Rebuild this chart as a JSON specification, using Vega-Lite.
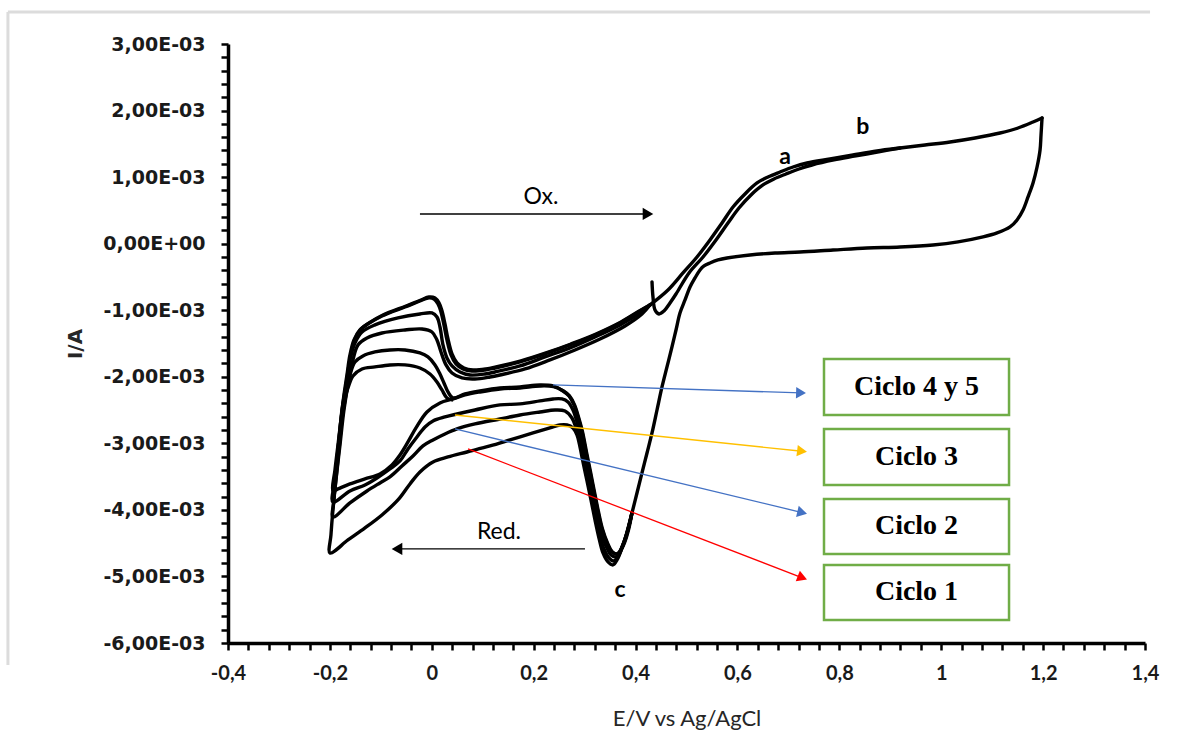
{
"$schema": "https://vega.github.io/schema/vega-lite/v6.json",
"width": 917, "height": 599,
"autosize": {"type": "none"},
"padding": {"left": 228, "top": 44, "right": 37, "bottom": 113},
"background": "white",
"config": {"view": {"stroke": null}},
"datasets": {
"cv": [
{"s":"oxo","o":0,"E":0.4283,"I":-0.000921},{"s":"oxo","o":1,"E":0.4637,"I":-0.000696},{"s":"oxo","o":2,"E":0.4931,"I":-0.000440},{"s":"oxo","o":3,"E":0.5206,"I":-0.000200},{"s":"oxo","o":4,"E":0.5461,"I":0.000056},{"s":"oxo","o":5,"E":0.5697,"I":0.000311},{"s":"oxo","o":6,"E":0.5913,"I":0.000551},{"s":"oxo","o":7,"E":0.6148,"I":0.000747},{"s":"oxo","o":8,"E":0.6384,"I":0.000912},{"s":"oxo","o":9,"E":0.6600,"I":0.001002},{"s":"oxo","o":10,"E":0.6836,"I":0.001077},{"s":"oxo","o":11,"E":0.7091,"I":0.001152},{"s":"oxo","o":12,"E":0.7366,"I":0.001212},{"s":"oxo","o":13,"E":0.7817,"I":0.001273},{"s":"oxo","o":14,"E":0.8269,"I":0.001333},{"s":"oxo","o":15,"E":0.8740,"I":0.001393},{"s":"oxo","o":16,"E":0.9191,"I":0.001438},{"s":"oxo","o":17,"E":0.9682,"I":0.001483},{"s":"oxo","o":18,"E":1.0173,"I":0.001528},{"s":"oxo","o":19,"E":1.0664,"I":0.001588},{"s":"oxo","o":20,"E":1.1154,"I":0.001663},{"s":"oxo","o":21,"E":1.1508,"I":0.001738},{"s":"oxo","o":22,"E":1.1802,"I":0.001828},{"s":"oxo","o":23,"E":1.1979,"I":0.001889},
{"s":"oxi","o":0,"E":0.4323,"I":-0.000575},{"s":"oxi","o":1,"E":0.4342,"I":-0.000801},{"s":"oxi","o":2,"E":0.4382,"I":-0.000996},{"s":"oxi","o":3,"E":0.4460,"I":-0.001056},{"s":"oxi","o":4,"E":0.4558,"I":-0.001011},{"s":"oxi","o":5,"E":0.4676,"I":-0.000891},{"s":"oxi","o":6,"E":0.4794,"I":-0.000756},{"s":"oxi","o":7,"E":0.5049,"I":-0.000440},{"s":"oxi","o":8,"E":0.5324,"I":-0.000200},{"s":"oxi","o":9,"E":0.5579,"I":0.000056},{"s":"oxi","o":10,"E":0.5814,"I":0.000311},{"s":"oxi","o":11,"E":0.6030,"I":0.000536},{"s":"oxi","o":12,"E":0.6266,"I":0.000732},{"s":"oxi","o":13,"E":0.6501,"I":0.000882},{"s":"oxi","o":14,"E":0.6717,"I":0.000972},{"s":"oxi","o":15,"E":0.6953,"I":0.001047},{"s":"oxi","o":16,"E":0.7208,"I":0.001122},{"s":"oxi","o":17,"E":0.7463,"I":0.001182},{"s":"oxi","o":18,"E":0.7895,"I":0.001258},{"s":"oxi","o":19,"E":0.8327,"I":0.001318},{"s":"oxi","o":20,"E":0.8799,"I":0.001385},{"s":"oxi","o":21,"E":0.9191,"I":0.001438},
{"s":"rev","o":0,"E":1.1979,"I":0.001889},{"s":"rev","o":1,"E":1.1959,"I":0.001633},{"s":"rev","o":2,"E":1.1940,"I":0.001408},{"s":"rev","o":3,"E":1.1881,"I":0.001152},{"s":"rev","o":4,"E":1.1802,"I":0.000912},{"s":"rev","o":5,"E":1.1704,"I":0.000702},{"s":"rev","o":6,"E":1.1606,"I":0.000506},{"s":"rev","o":7,"E":1.1488,"I":0.000356},{"s":"rev","o":8,"E":1.1351,"I":0.000251},{"s":"rev","o":9,"E":1.1096,"I":0.000161},{"s":"rev","o":10,"E":1.0821,"I":0.000101},{"s":"rev","o":11,"E":1.0330,"I":0.000026},{"s":"rev","o":12,"E":0.9839,"I":-0.000020},{"s":"rev","o":13,"E":0.9191,"I":-0.000050},{"s":"rev","o":14,"E":0.8543,"I":-0.000065},{"s":"rev","o":15,"E":0.7876,"I":-0.000095},{"s":"rev","o":16,"E":0.7228,"I":-0.000125},{"s":"rev","o":17,"E":0.6737,"I":-0.000140},{"s":"rev","o":18,"E":0.6247,"I":-0.000170},{"s":"rev","o":19,"E":0.5795,"I":-0.000215},{"s":"rev","o":20,"E":0.5618,"I":-0.000245},{"s":"rev","o":21,"E":0.5461,"I":-0.000290},{"s":"rev","o":22,"E":0.5344,"I":-0.000335},{"s":"rev","o":23,"E":0.5265,"I":-0.000395},{"s":"rev","o":24,"E":0.5167,"I":-0.000515},{"s":"rev","o":25,"E":0.5069,"I":-0.000651},{"s":"rev","o":26,"E":0.4971,"I":-0.000846},{"s":"rev","o":27,"E":0.4872,"I":-0.001041},{"s":"rev","o":28,"E":0.4794,"I":-0.001297},{"s":"rev","o":29,"E":0.4715,"I":-0.001552},{"s":"rev","o":30,"E":0.4617,"I":-0.001852},{"s":"rev","o":31,"E":0.4519,"I":-0.002153},{"s":"rev","o":32,"E":0.4421,"I":-0.002499},{"s":"rev","o":33,"E":0.4323,"I":-0.002844},{"s":"rev","o":34,"E":0.4225,"I":-0.003145},{"s":"rev","o":35,"E":0.4126,"I":-0.003445},{"s":"rev","o":36,"E":0.4028,"I":-0.003746},{"s":"rev","o":37,"E":0.3930,"I":-0.004046},
{"s":"w1","o":0,"E":0.3930,"I":-0.004046},{"s":"w1","o":1,"E":0.3832,"I":-0.004347},{"s":"w1","o":2,"E":0.3734,"I":-0.004572},{"s":"w1","o":3,"E":0.3636,"I":-0.004752},{"s":"w1","o":4,"E":0.3557,"I":-0.004827},{"s":"w1","o":5,"E":0.3459,"I":-0.004782},{"s":"w1","o":6,"E":0.3361,"I":-0.004647},{"s":"w1","o":7,"E":0.3282,"I":-0.004422},{"s":"w1","o":8,"E":0.3204,"I":-0.004151},{"s":"w1","o":9,"E":0.3125,"I":-0.003851},{"s":"w1","o":10,"E":0.3047,"I":-0.003565},{"s":"w1","o":11,"E":0.2968,"I":-0.003280},{"s":"w1","o":12,"E":0.2909,"I":-0.003054},{"s":"w1","o":13,"E":0.2850,"I":-0.002874},{"s":"w1","o":14,"E":0.2772,"I":-0.002769},{"s":"w1","o":15,"E":0.2654,"I":-0.002724},{"s":"w1","o":16,"E":0.2517,"I":-0.002724},{"s":"w1","o":17,"E":0.2320,"I":-0.002769},{"s":"w1","o":18,"E":0.1987,"I":-0.002844},{"s":"w1","o":19,"E":0.1535,"I":-0.002949},{"s":"w1","o":20,"E":0.1143,"I":-0.003039},{"s":"w1","o":21,"E":0.0691,"I":-0.003130},{"s":"w1","o":22,"E":0.0318,"I":-0.003205},{"s":"w1","o":23,"E":0.0024,"I":-0.003280},{"s":"w1","o":24,"E":-0.0232,"I":-0.003430},{"s":"w1","o":25,"E":-0.0428,"I":-0.003610},{"s":"w1","o":26,"E":-0.0664,"I":-0.003851},{"s":"w1","o":27,"E":-0.0978,"I":-0.004076},{"s":"w1","o":28,"E":-0.1311,"I":-0.004271},{"s":"w1","o":29,"E":-0.1645,"I":-0.004452},{"s":"w1","o":30,"E":-0.1998,"I":-0.004647},{"s":"w1","o":31,"E":-0.1979,"I":-0.004377},{"s":"w1","o":32,"E":-0.1940,"I":-0.004001},{"s":"w1","o":33,"E":-0.1881,"I":-0.003550},{"s":"w1","o":34,"E":-0.1802,"I":-0.003024},{"s":"w1","o":35,"E":-0.1724,"I":-0.002499},{"s":"w1","o":36,"E":-0.1645,"I":-0.002123},{"s":"w1","o":37,"E":-0.1547,"I":-0.001747},{"s":"w1","o":38,"E":-0.1449,"I":-0.001522},{"s":"w1","o":39,"E":-0.1272,"I":-0.001417},{"s":"w1","o":40,"E":-0.0978,"I":-0.001342},{"s":"w1","o":41,"E":-0.0526,"I":-0.001297},{"s":"w1","o":42,"E":-0.0192,"I":-0.001282},{"s":"w1","o":43,"E":0.0004,"I":-0.001327},{"s":"w1","o":44,"E":0.0102,"I":-0.001447},{"s":"w1","o":45,"E":0.0181,"I":-0.001627},{"s":"w1","o":46,"E":0.0279,"I":-0.001822},{"s":"w1","o":47,"E":0.0397,"I":-0.001943},{"s":"w1","o":48,"E":0.0593,"I":-0.002018},{"s":"w1","o":49,"E":0.0848,"I":-0.002033},{"s":"w1","o":50,"E":0.1143,"I":-0.002003},{"s":"w1","o":51,"E":0.1339,"I":-0.001973},{"s":"w1","o":52,"E":0.1830,"I":-0.001883},{"s":"w1","o":53,"E":0.2320,"I":-0.001747},{"s":"w1","o":54,"E":0.2811,"I":-0.001597},{"s":"w1","o":55,"E":0.3302,"I":-0.001432},{"s":"w1","o":56,"E":0.3793,"I":-0.001236},{"s":"w1","o":57,"E":0.4126,"I":-0.001056},{"s":"w1","o":58,"E":0.4283,"I":-0.000921},
{"s":"w2","o":0,"E":0.3930,"I":-0.004046},{"s":"w2","o":1,"E":0.3832,"I":-0.004347},{"s":"w2","o":2,"E":0.3734,"I":-0.004557},{"s":"w2","o":3,"E":0.3655,"I":-0.004707},{"s":"w2","o":4,"E":0.3577,"I":-0.004767},{"s":"w2","o":5,"E":0.3479,"I":-0.004722},{"s":"w2","o":6,"E":0.3380,"I":-0.004587},{"s":"w2","o":7,"E":0.3302,"I":-0.004377},{"s":"w2","o":8,"E":0.3223,"I":-0.004121},{"s":"w2","o":9,"E":0.3145,"I":-0.003821},{"s":"w2","o":10,"E":0.3066,"I":-0.003535},{"s":"w2","o":11,"E":0.2988,"I":-0.003220},{"s":"w2","o":12,"E":0.2909,"I":-0.002979},{"s":"w2","o":13,"E":0.2831,"I":-0.002769},{"s":"w2","o":14,"E":0.2752,"I":-0.002619},{"s":"w2","o":15,"E":0.2615,"I":-0.002514},{"s":"w2","o":16,"E":0.2419,"I":-0.002499},{"s":"w2","o":17,"E":0.2124,"I":-0.002529},{"s":"w2","o":18,"E":0.1731,"I":-0.002574},{"s":"w2","o":19,"E":0.1339,"I":-0.002634},{"s":"w2","o":20,"E":0.0848,"I":-0.002709},{"s":"w2","o":21,"E":0.0495,"I":-0.002784},{"s":"w2","o":22,"E":0.0259,"I":-0.002859},{"s":"w2","o":23,"E":0.0024,"I":-0.002949},{"s":"w2","o":24,"E":-0.0173,"I":-0.003039},{"s":"w2","o":25,"E":-0.0369,"I":-0.003190},{"s":"w2","o":26,"E":-0.0585,"I":-0.003340},{"s":"w2","o":27,"E":-0.0821,"I":-0.003505},{"s":"w2","o":28,"E":-0.1017,"I":-0.003595},{"s":"w2","o":29,"E":-0.1272,"I":-0.003716},{"s":"w2","o":30,"E":-0.1606,"I":-0.003896},{"s":"w2","o":31,"E":-0.1940,"I":-0.004106},{"s":"w2","o":32,"E":-0.1920,"I":-0.003851},{"s":"w2","o":33,"E":-0.1881,"I":-0.003400},{"s":"w2","o":34,"E":-0.1822,"I":-0.002949},{"s":"w2","o":35,"E":-0.1763,"I":-0.002499},{"s":"w2","o":36,"E":-0.1684,"I":-0.002123},{"s":"w2","o":37,"E":-0.1606,"I":-0.001747},{"s":"w2","o":38,"E":-0.1508,"I":-0.001492},{"s":"w2","o":39,"E":-0.1370,"I":-0.001327},{"s":"w2","o":40,"E":-0.1115,"I":-0.001221},{"s":"w2","o":41,"E":-0.0664,"I":-0.001116},{"s":"w2","o":42,"E":-0.0232,"I":-0.001056},{"s":"w2","o":43,"E":0.0004,"I":-0.001041},{"s":"w2","o":44,"E":0.0102,"I":-0.001101},{"s":"w2","o":45,"E":0.0161,"I":-0.001252},{"s":"w2","o":46,"E":0.0220,"I":-0.001522},{"s":"w2","o":47,"E":0.0298,"I":-0.001717},{"s":"w2","o":48,"E":0.0397,"I":-0.001837},{"s":"w2","o":49,"E":0.0554,"I":-0.001928},{"s":"w2","o":50,"E":0.0750,"I":-0.001973},{"s":"w2","o":51,"E":0.1044,"I":-0.001958},{"s":"w2","o":52,"E":0.1241,"I":-0.001928},{"s":"w2","o":53,"E":0.1731,"I":-0.001837},{"s":"w2","o":54,"E":0.2222,"I":-0.001702},{"s":"w2","o":55,"E":0.2713,"I":-0.001567},{"s":"w2","o":56,"E":0.3204,"I":-0.001402},{"s":"w2","o":57,"E":0.3695,"I":-0.001221},{"s":"w2","o":58,"E":0.4087,"I":-0.001041},{"s":"w2","o":59,"E":0.4283,"I":-0.000921},
{"s":"w3","o":0,"E":0.3930,"I":-0.004046},{"s":"w3","o":1,"E":0.3832,"I":-0.004332},{"s":"w3","o":2,"E":0.3753,"I":-0.004527},{"s":"w3","o":3,"E":0.3675,"I":-0.004662},{"s":"w3","o":4,"E":0.3616,"I":-0.004707},{"s":"w3","o":5,"E":0.3518,"I":-0.004677},{"s":"w3","o":6,"E":0.3420,"I":-0.004542},{"s":"w3","o":7,"E":0.3322,"I":-0.004332},{"s":"w3","o":8,"E":0.3243,"I":-0.004076},{"s":"w3","o":9,"E":0.3164,"I":-0.003791},{"s":"w3","o":10,"E":0.3086,"I":-0.003490},{"s":"w3","o":11,"E":0.3007,"I":-0.003175},{"s":"w3","o":12,"E":0.2929,"I":-0.002904},{"s":"w3","o":13,"E":0.2850,"I":-0.002679},{"s":"w3","o":14,"E":0.2772,"I":-0.002499},{"s":"w3","o":15,"E":0.2674,"I":-0.002378},{"s":"w3","o":16,"E":0.2556,"I":-0.002333},{"s":"w3","o":17,"E":0.2379,"I":-0.002333},{"s":"w3","o":18,"E":0.2124,"I":-0.002363},{"s":"w3","o":19,"E":0.1731,"I":-0.002408},{"s":"w3","o":20,"E":0.1339,"I":-0.002423},{"s":"w3","o":21,"E":0.0848,"I":-0.002499},{"s":"w3","o":22,"E":0.0495,"I":-0.002559},{"s":"w3","o":23,"E":0.0259,"I":-0.002604},{"s":"w3","o":24,"E":0.0024,"I":-0.002664},{"s":"w3","o":25,"E":-0.0133,"I":-0.002754},{"s":"w3","o":26,"E":-0.0291,"I":-0.002904},{"s":"w3","o":27,"E":-0.0467,"I":-0.003084},{"s":"w3","o":28,"E":-0.0624,"I":-0.003265},{"s":"w3","o":29,"E":-0.0821,"I":-0.003385},{"s":"w3","o":30,"E":-0.1076,"I":-0.003520},{"s":"w3","o":31,"E":-0.1311,"I":-0.003625},{"s":"w3","o":32,"E":-0.1606,"I":-0.003716},{"s":"w3","o":33,"E":-0.1940,"I":-0.003881},{"s":"w3","o":34,"E":-0.1900,"I":-0.003550},{"s":"w3","o":35,"E":-0.1841,"I":-0.003099},{"s":"w3","o":36,"E":-0.1782,"I":-0.002649},{"s":"w3","o":37,"E":-0.1724,"I":-0.002273},{"s":"w3","o":38,"E":-0.1665,"I":-0.001973},{"s":"w3","o":39,"E":-0.1606,"I":-0.001672},{"s":"w3","o":40,"E":-0.1527,"I":-0.001447},{"s":"w3","o":41,"E":-0.1410,"I":-0.001297},{"s":"w3","o":42,"E":-0.1252,"I":-0.001206},{"s":"w3","o":43,"E":-0.0978,"I":-0.001086},{"s":"w3","o":44,"E":-0.0526,"I":-0.000951},{"s":"w3","o":45,"E":-0.0232,"I":-0.000861},{"s":"w3","o":46,"E":-0.0075,"I":-0.000816},{"s":"w3","o":47,"E":0.0043,"I":-0.000831},{"s":"w3","o":48,"E":0.0122,"I":-0.000906},{"s":"w3","o":49,"E":0.0181,"I":-0.001026},{"s":"w3","o":50,"E":0.0239,"I":-0.001221},{"s":"w3","o":51,"E":0.0298,"I":-0.001447},{"s":"w3","o":52,"E":0.0377,"I":-0.001672},{"s":"w3","o":53,"E":0.0475,"I":-0.001807},{"s":"w3","o":54,"E":0.0612,"I":-0.001883},{"s":"w3","o":55,"E":0.0789,"I":-0.001913},{"s":"w3","o":56,"E":0.1044,"I":-0.001898},{"s":"w3","o":57,"E":0.1241,"I":-0.001868},{"s":"w3","o":58,"E":0.1731,"I":-0.001777},{"s":"w3","o":59,"E":0.2222,"I":-0.001657},{"s":"w3","o":60,"E":0.2713,"I":-0.001522},{"s":"w3","o":61,"E":0.3204,"I":-0.001372},{"s":"w3","o":62,"E":0.3695,"I":-0.001191},{"s":"w3","o":63,"E":0.4087,"I":-0.001011},{"s":"w3","o":64,"E":0.4283,"I":-0.000921},
{"s":"w4","o":0,"E":0.3930,"I":-0.004046},{"s":"w4","o":1,"E":0.3852,"I":-0.004301},{"s":"w4","o":2,"E":0.3773,"I":-0.004497},{"s":"w4","o":3,"E":0.3695,"I":-0.004617},{"s":"w4","o":4,"E":0.3636,"I":-0.004662},{"s":"w4","o":5,"E":0.3537,"I":-0.004632},{"s":"w4","o":6,"E":0.3439,"I":-0.004497},{"s":"w4","o":7,"E":0.3341,"I":-0.004287},{"s":"w4","o":8,"E":0.3263,"I":-0.004031},{"s":"w4","o":9,"E":0.3184,"I":-0.003731},{"s":"w4","o":10,"E":0.3106,"I":-0.003430},{"s":"w4","o":11,"E":0.3027,"I":-0.003130},{"s":"w4","o":12,"E":0.2949,"I":-0.002829},{"s":"w4","o":13,"E":0.2870,"I":-0.002604},{"s":"w4","o":14,"E":0.2792,"I":-0.002423},{"s":"w4","o":15,"E":0.2693,"I":-0.002288},{"s":"w4","o":16,"E":0.2576,"I":-0.002213},{"s":"w4","o":17,"E":0.2379,"I":-0.002138},{"s":"w4","o":18,"E":0.2124,"I":-0.002123},{"s":"w4","o":19,"E":0.1731,"I":-0.002153},{"s":"w4","o":20,"E":0.1339,"I":-0.002168},{"s":"w4","o":21,"E":0.0946,"I":-0.002213},{"s":"w4","o":22,"E":0.0652,"I":-0.002258},{"s":"w4","o":23,"E":0.0416,"I":-0.002318},{"s":"w4","o":24,"E":0.0318,"I":-0.002228},{"s":"w4","o":25,"E":0.0239,"I":-0.002093},{"s":"w4","o":26,"E":0.0161,"I":-0.001958},{"s":"w4","o":27,"E":0.0063,"I":-0.001822},{"s":"w4","o":28,"E":-0.0075,"I":-0.001702},{"s":"w4","o":29,"E":-0.0232,"I":-0.001642},{"s":"w4","o":30,"E":-0.0526,"I":-0.001597},{"s":"w4","o":31,"E":-0.0821,"I":-0.001597},{"s":"w4","o":32,"E":-0.1115,"I":-0.001627},{"s":"w4","o":33,"E":-0.1351,"I":-0.001687},{"s":"w4","o":34,"E":-0.1508,"I":-0.001777},{"s":"w4","o":35,"E":-0.1606,"I":-0.001973},{"s":"w4","o":36,"E":-0.1684,"I":-0.002273},{"s":"w4","o":37,"E":-0.1763,"I":-0.002649},{"s":"w4","o":38,"E":-0.1822,"I":-0.003099},{"s":"w4","o":39,"E":-0.1881,"I":-0.003475},{"s":"w4","o":40,"E":-0.1920,"I":-0.003806},{"s":"w4","o":41,"E":-0.1880,"I":-0.003535},{"s":"w4","o":42,"E":-0.1821,"I":-0.003084},{"s":"w4","o":43,"E":-0.1762,"I":-0.002634},{"s":"w4","o":44,"E":-0.1704,"I":-0.002258},{"s":"w4","o":45,"E":-0.1645,"I":-0.001958},{"s":"w4","o":46,"E":-0.1586,"I":-0.001657},{"s":"w4","o":47,"E":-0.1507,"I":-0.001432},{"s":"w4","o":48,"E":-0.1390,"I":-0.001282},{"s":"w4","o":49,"E":-0.1232,"I":-0.001191},{"s":"w4","o":50,"E":-0.0958,"I":-0.001071},{"s":"w4","o":51,"E":-0.0506,"I":-0.000936},{"s":"w4","o":52,"E":-0.0212,"I":-0.000846},{"s":"w4","o":53,"E":-0.0055,"I":-0.000801},{"s":"w4","o":54,"E":0.0063,"I":-0.000816},{"s":"w4","o":55,"E":0.0142,"I":-0.000891},{"s":"w4","o":56,"E":0.0201,"I":-0.001011},{"s":"w4","o":57,"E":0.0259,"I":-0.001206},{"s":"w4","o":58,"E":0.0318,"I":-0.001432},{"s":"w4","o":59,"E":0.0397,"I":-0.001657},{"s":"w4","o":60,"E":0.0495,"I":-0.001792},{"s":"w4","o":61,"E":0.0632,"I":-0.001868},{"s":"w4","o":62,"E":0.0809,"I":-0.001898},{"s":"w4","o":63,"E":0.1064,"I":-0.001883},{"s":"w4","o":64,"E":0.1261,"I":-0.001853},{"s":"w4","o":65,"E":0.1751,"I":-0.001762},{"s":"w4","o":66,"E":0.2242,"I":-0.001642},{"s":"w4","o":67,"E":0.2733,"I":-0.001507},{"s":"w4","o":68,"E":0.3224,"I":-0.001357},{"s":"w4","o":69,"E":0.3715,"I":-0.001176},{"s":"w4","o":70,"E":0.4100,"I":-0.001000},{"s":"w4","o":71,"E":0.4283,"I":-0.000921},
{"s":"w5","o":0,"E":0.3930,"I":-0.004046},{"s":"w5","o":1,"E":0.3862,"I":-0.004301},{"s":"w5","o":2,"E":0.3783,"I":-0.004497},{"s":"w5","o":3,"E":0.3705,"I":-0.004617},{"s":"w5","o":4,"E":0.3646,"I":-0.004662},{"s":"w5","o":5,"E":0.3547,"I":-0.004632},{"s":"w5","o":6,"E":0.3449,"I":-0.004497},{"s":"w5","o":7,"E":0.3351,"I":-0.004287},{"s":"w5","o":8,"E":0.3273,"I":-0.004031},{"s":"w5","o":9,"E":0.3194,"I":-0.003731},{"s":"w5","o":10,"E":0.3116,"I":-0.003430},{"s":"w5","o":11,"E":0.3037,"I":-0.003130},{"s":"w5","o":12,"E":0.2959,"I":-0.002829},{"s":"w5","o":13,"E":0.2880,"I":-0.002604},{"s":"w5","o":14,"E":0.2802,"I":-0.002423},{"s":"w5","o":15,"E":0.2703,"I":-0.002288},{"s":"w5","o":16,"E":0.2586,"I":-0.002213},{"s":"w5","o":17,"E":0.2389,"I":-0.002148},{"s":"w5","o":18,"E":0.2124,"I":-0.002138},{"s":"w5","o":19,"E":0.1731,"I":-0.002168},{"s":"w5","o":20,"E":0.1339,"I":-0.002183},{"s":"w5","o":21,"E":0.0946,"I":-0.002228},{"s":"w5","o":22,"E":0.0652,"I":-0.002273},{"s":"w5","o":23,"E":0.0416,"I":-0.002333},{"s":"w5","o":24,"E":0.0161,"I":-0.002393},{"s":"w5","o":25,"E":-0.0094,"I":-0.002529},{"s":"w5","o":26,"E":-0.0310,"I":-0.002769},{"s":"w5","o":27,"E":-0.0467,"I":-0.002979},{"s":"w5","o":28,"E":-0.0624,"I":-0.003175},{"s":"w5","o":29,"E":-0.0781,"I":-0.003325},{"s":"w5","o":30,"E":-0.1017,"I":-0.003460},{"s":"w5","o":31,"E":-0.1311,"I":-0.003535},{"s":"w5","o":32,"E":-0.1606,"I":-0.003610},{"s":"w5","o":33,"E":-0.1841,"I":-0.003685},{"s":"w5","o":34,"E":-0.1940,"I":-0.003716},{"s":"w5","o":35,"E":-0.1900,"I":-0.003400},{"s":"w5","o":36,"E":-0.1841,"I":-0.003024},{"s":"w5","o":37,"E":-0.1782,"I":-0.002649},{"s":"w5","o":38,"E":-0.1724,"I":-0.002348},{"s":"w5","o":39,"E":-0.1645,"I":-0.002168},{"s":"w5","o":40,"E":-0.1547,"I":-0.001988},{"s":"w5","o":41,"E":-0.1370,"I":-0.001883},{"s":"w5","o":42,"E":-0.1115,"I":-0.001852},{"s":"w5","o":43,"E":-0.0821,"I":-0.001822},{"s":"w5","o":44,"E":-0.0526,"I":-0.001822},{"s":"w5","o":45,"E":-0.0232,"I":-0.001868},{"s":"w5","o":46,"E":-0.0035,"I":-0.001958},{"s":"w5","o":47,"E":0.0102,"I":-0.002078},{"s":"w5","o":48,"E":0.0200,"I":-0.002198},{"s":"w5","o":49,"E":0.0298,"I":-0.002318},{"s":"w5","o":50,"E":0.0397,"I":-0.002348}
],
"frame": [
{"E":-0.832,"I":0.003481,"E2":1.4099,"I2":0.003481},
{"E":-0.832,"I":0.003481,"E2":-0.832,"I2":-0.00633}
],
"arrows": [
{"name":"ox","E":-0.0232,"I":0.000446,"E2":0.4205,"I2":0.000446},
{"name":"red","E":0.3007,"I":-0.004587,"E2":-0.0664,"I2":-0.004587},
{"name":"c45","E":0.2379,"I":-0.002123,"E2":0.7248,"I2":-0.002243},
{"name":"c3","E":0.0455,"I":-0.002574,"E2":0.7268,"I2":-0.003119},
{"name":"c2","E":0.0455,"I":-0.002784,"E2":0.7271,"I2":-0.004040},
{"name":"c1","E":0.0711,"I":-0.003084,"E2":0.7275,"I2":-0.005020}
],
"heads": [
{"name":"ox","E":0.4244,"I":0.000446},
{"name":"red","E":-0.0683,"I":-0.004587},
{"name":"c45","E":0.7248,"I":-0.002243},
{"name":"c3","E":0.7268,"I":-0.003119},
{"name":"c2","E":0.7271,"I":-0.004040},
{"name":"c1","E":0.7275,"I":-0.005020}
],
"boxes": [
{"label":"Ciclo 4 y 5","E":0.7699,"E2":1.1331,"I":-0.001732,"I2":-0.002574},
{"label":"Ciclo 3","E":0.7699,"E2":1.1331,"I":-0.002784,"I2":-0.003625},
{"label":"Ciclo 2","E":0.7699,"E2":1.1331,"I":-0.003836,"I2":-0.004662},
{"label":"Ciclo 1","E":0.7699,"E2":1.1331,"I":-0.004827,"I2":-0.005654}
],
"boxtext": [
{"label":"Ciclo 4 y 5","E":0.9515,"I":-0.002153},
{"label":"Ciclo 3","E":0.9515,"I":-0.003205},
{"label":"Ciclo 2","E":0.9515,"I":-0.004249},
{"label":"Ciclo 1","E":0.9515,"I":-0.005240}
],
"letters": [
{"t":"a","E":0.6934,"I":0.001303},
{"t":"b","E":0.8461,"I":0.001753},
{"t":"c","E":0.3695,"I":-0.005203}
],
"dirs": [
{"t":"Ox.","E":0.2144,"I":0.000702},
{"t":"Red.","E":0.1319,"I":-0.004331}
]
},
"encoding": {
"x": {"field": "E", "type": "quantitative", "scale": {"domain": [-0.4, 1.4], "nice": false, "zero": false},
"axis": {"title": "E/V vs Ag/AgCl", "grid": false,
"values": [-0.4,-0.36,-0.32,-0.28,-0.24,-0.2,-0.16,-0.12,-0.08,-0.04,0,0.04,0.08,0.12,0.16,0.2,0.24,0.28,0.32,0.36,0.4,0.44,0.48,0.52,0.56,0.6,0.64,0.68,0.72,0.76,0.8,0.84,0.88,0.92,0.96,1,1.04,1.08,1.12,1.16,1.2,1.24,1.28,1.32,1.36,1.4],
"labelExpr": "abs(datum.value*5 - round(datum.value*5)) < 0.001 ? replace(replace(format(datum.value, '.1~f'), '.', ','), '\u2212', '-') : ''",
"labelOverlap": false, "labelFlush": false, "labelBound": false,
"labelFont": "Lato", "labelFontWeight": "bold", "labelFontSize": 20, "labelColor": "#1a1a1a", "labelPadding": 13,
"tickSize": 7, "tickWidth": 2.5, "tickColor": "black", "domainColor": "black", "domainWidth": 3.5,
"titleFont": "Lato", "titleFontSize": 22, "titleFontWeight": "normal", "titleColor": "#262626", "titleY": 75, "titleBaseline": "middle"}},
"y": {"field": "I", "type": "quantitative", "scale": {"domain": [-0.006, 0.003], "nice": false, "zero": false},
"axis": {"title": "I/A", "grid": false,
"values": [-0.006,-0.0058,-0.0056,-0.0054,-0.0052,-0.005,-0.0048,-0.0046,-0.0044,-0.0042,-0.004,-0.0038,-0.0036,-0.0034,-0.0032,-0.003,-0.0028,-0.0026,-0.0024,-0.0022,-0.002,-0.0018,-0.0016,-0.0014,-0.0012,-0.001,-0.0008,-0.0006,-0.0004,-0.0002,0,0.0002,0.0004,0.0006,0.0008,0.001,0.0012,0.0014,0.0016,0.0018,0.002,0.0022,0.0024,0.0026,0.0028,0.003],
"labelExpr": "abs(datum.value*1000 - round(datum.value*1000)) < 0.001 ? (abs(datum.value) < 0.0000001 ? '0,00E+00' : (datum.value < 0 ? '-' : '') + replace(format(abs(datum.value)*1000, '.2f'), '.', ',') + 'E-03') : ''",
"labelOverlap": false, "labelFlush": false, "labelBound": false,
"labelFont": "DejaVu Sans", "labelFontWeight": "bold", "labelFontSize": 19, "labelColor": "#1a1a1a", "labelPadding": 16,
"tickSize": 7, "tickWidth": 2.5, "tickColor": "black", "domainColor": "black", "domainWidth": 3.5,
"titleFont": "DejaVu Sans", "titleFontSize": 20, "titleFontWeight": "bold", "titleColor": "#262626", "titleX": -153, "titleBaseline": "middle"}}
},
"layer": [
{
"data": {"name": "frame"},
"mark": {"type": "rule", "color": "#dcdcdc", "strokeWidth": 3, "clip": false},
"encoding": {"x2": {"field": "E2"}, "y2": {"field": "I2"}}
},
{
"data": {"name": "cv"},
"mark": {"type": "line", "color": "black", "strokeWidth": 3.4, "strokeJoin": "round", "strokeCap": "round", "interpolate": "catmull-rom"},
"encoding": {
"detail": {"field": "s", "type": "nominal"},
"order": {"field": "o", "type": "quantitative"}
}
},
{
"data": {"name": "arrows"},
"mark": {"type": "rule", "strokeWidth": 1.3},
"encoding": {
"x2": {"field": "E2"},
"y2": {"field": "I2"},
"color": {"field": "name", "type": "nominal", "legend": null,
"scale": {"domain": ["ox","red","c45","c3","c2","c1"], "range": ["#000000","#000000","#4472C4","#FFC000","#4472C4","#FF0000"]}}
}
},
{
"data": {"name": "heads"},
"transform": [{"filter": "datum.name == 'ox'"}],
"mark": {"type": "point", "filled": true, "opacity": 1, "size": 150, "shape": "triangle-right", "color": "#000000", "angle": 0}
},
{
"data": {"name": "heads"},
"transform": [{"filter": "datum.name == 'red'"}],
"mark": {"type": "point", "filled": true, "opacity": 1, "size": 150, "shape": "triangle-left", "color": "#000000", "angle": 0}
},
{
"data": {"name": "heads"},
"transform": [{"filter": "datum.name == 'c45'"}],
"mark": {"type": "point", "filled": true, "opacity": 1, "size": 130, "shape": "triangle-right", "color": "#4472C4", "angle": 1.85}
},
{
"data": {"name": "heads"},
"transform": [{"filter": "datum.name == 'c3'"}],
"mark": {"type": "point", "filled": true, "opacity": 1, "size": 130, "shape": "triangle-right", "color": "#FFC000", "angle": 6.94}
},
{
"data": {"name": "heads"},
"transform": [{"filter": "datum.name == 'c2'"}],
"mark": {"type": "point", "filled": true, "opacity": 1, "size": 130, "shape": "triangle-right", "color": "#4472C4", "angle": 13.54}
},
{
"data": {"name": "heads"},
"transform": [{"filter": "datum.name == 'c1'"}],
"mark": {"type": "point", "filled": true, "opacity": 1, "size": 130, "shape": "triangle-right", "color": "#FF0000", "angle": 21.07}
},
{
"data": {"name": "boxes"},
"mark": {"type": "rect", "fill": "white", "stroke": "#70AD47", "strokeWidth": 2.5},
"encoding": {
"x2": {"field": "E2"},
"y2": {"field": "I2"}
}
},
{
"data": {"name": "boxtext"},
"mark": {"type": "text", "font": "Liberation Serif", "fontWeight": "bold", "fontSize": 28, "color": "black", "align": "center", "baseline": "middle"},
"encoding": {"text": {"field": "label"}}
},
{
"data": {"name": "letters"},
"mark": {"type": "text", "font": "Lato", "fontWeight": "bold", "fontSize": 23, "color": "black", "align": "center", "baseline": "middle"},
"encoding": {"text": {"field": "t"}}
},
{
"data": {"name": "dirs"},
"mark": {"type": "text", "font": "Lato", "fontSize": 23, "color": "black", "align": "center", "baseline": "middle"},
"encoding": {"text": {"field": "t"}}
}
]
}
